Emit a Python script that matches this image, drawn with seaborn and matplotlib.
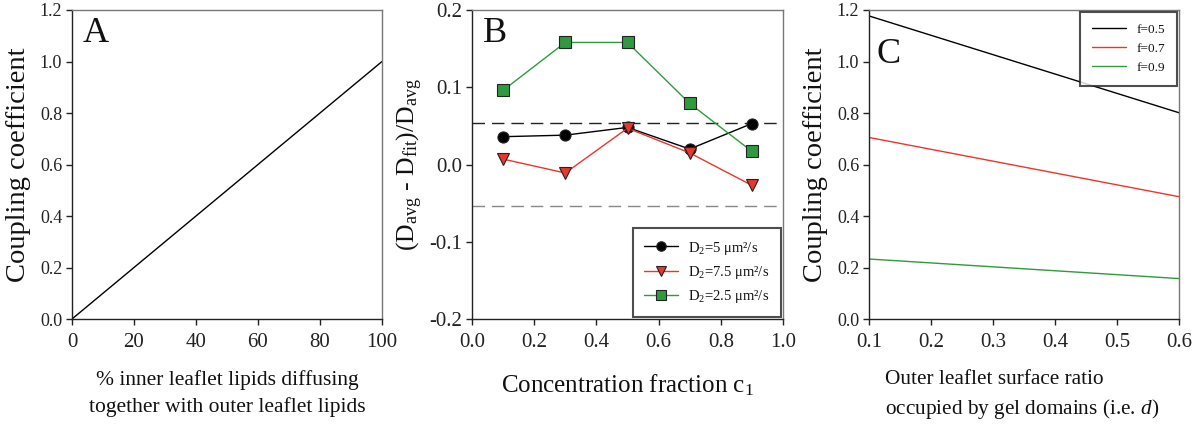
import numpy as np
import pandas as pd
import matplotlib
matplotlib.use("Agg")
import matplotlib.pyplot as plt
import seaborn as sns

# ---- data ----
a_x = [0, 100]
a_y = [0.0, 1.0]

b_c1 = [0.1, 0.3, 0.5, 0.7, 0.9]
b_d5 = [0.036, 0.038, 0.048, 0.020, 0.053]
b_d75 = [0.007, -0.011, 0.047, 0.015, -0.027]
b_d25 = [0.096, 0.158, 0.158, 0.079, 0.017]
b_thresh = 0.054

c_d = [0.1, 0.6]
c_f05 = [1.177, 0.801]
c_f07 = [0.705, 0.475]
c_f09 = [0.233, 0.157]

sns.set_style("ticks")
plt.rcParams['font.family'] = ['Liberation Serif', 'DejaVu Serif']
plt.rcParams['mathtext.fontset'] = 'custom'
plt.rcParams['mathtext.rm'] = 'Liberation Serif'
plt.rcParams['mathtext.it'] = 'Liberation Serif:italic'
plt.rcParams['axes.unicode_minus'] = False
plt.rcParams['text.color'] = '#111111'
plt.rcParams['axes.labelcolor'] = '#111111'
plt.rcParams['xtick.color'] = '#222222'
plt.rcParams['ytick.color'] = '#222222'

fig = plt.figure(figsize=(12.03, 4.30), dpi=100)
W, H = 1203, 430

def mk_ax(left, right, top=10, bottom=319):
    return fig.add_axes([left / W, 1 - bottom / H, (right - left) / W, (bottom - top) / H])

axA = mk_ax(72, 382)
axB = mk_ax(472, 783)
axC = mk_ax(869, 1179)

def style(ax, ysize=13):
    for s in ['left', 'bottom']:
        ax.spines[s].set_color('#222222')
        ax.spines[s].set_linewidth(1.0)
    for s in ['top', 'right']:
        ax.spines[s].set_visible(True)
        ax.spines[s].set_color('#777777')
        ax.spines[s].set_linewidth(1.0)
    ax.tick_params(axis='both', direction='out', length=4, width=1, color='#222222')
    ax.tick_params(axis='x', labelsize=15, pad=6)
    ax.tick_params(axis='y', labelsize=ysize, pad=3)
    ax.tick_params(top=False, right=False)

# ---- Panel A ----
sns.lineplot(x=a_x, y=a_y, ax=axA, color='black', linewidth=1.0)
axA.set_xlim(0, 100)
axA.set_ylim(0, 1.2)
axA.set_xticks([0, 20, 40, 60, 80, 100])
axA.set_yticks(np.round(np.arange(0, 1.21, 0.2), 1))
axA.set_yticklabels([f"{v:.1f}" for v in np.arange(0, 1.21, 0.2)])
axA.set_ylabel("Coupling coefficient", fontsize=20.5, labelpad=6)
axA.set_xlabel("% inner leaflet lipids diffusing\ntogether with outer leaflet lipids",
               fontsize=15.5, labelpad=13, linespacing=1.5)
axA.text(0.035, 0.895, "A", transform=axA.transAxes, fontsize=26)
style(axA)

# ---- Panel B ----
dfB = pd.DataFrame({
    'c1': b_c1 * 3,
    'val': b_d5 + b_d75 + b_d25,
    'series': (["D$_2$=5 μm²/s"] * 5 + ["D$_2$=7.5 μm²/s"] * 5 + ["D$_2$=2.5 μm²/s"] * 5),
})
palB = {"D$_2$=5 μm²/s": 'black', "D$_2$=7.5 μm²/s": '#e8372c', "D$_2$=2.5 μm²/s": '#2f9a3f'}
mkB = {"D$_2$=5 μm²/s": 'o', "D$_2$=7.5 μm²/s": 'v', "D$_2$=2.5 μm²/s": 's'}
axB.axhline(b_thresh, color='#222222', linestyle=(0, (9, 5)), linewidth=1.0, zorder=1)
axB.axhline(-b_thresh, color='#888888', linestyle=(0, (9, 5)), linewidth=1.0, zorder=1)
sns.lineplot(data=dfB, x='c1', y='val', hue='series', style='series',
             palette=palB, markers=mkB, dashes=False, ax=axB, linewidth=1.0,
             markersize=8, markeredgecolor='#222222', markeredgewidth=0.8, sort=False)
axB.set_xlim(0, 1.0)
axB.set_ylim(-0.2, 0.2)
axB.set_xticks(np.round(np.arange(0, 1.01, 0.2), 1))
axB.set_xticklabels([f"{v:.1f}" for v in np.arange(0, 1.01, 0.2)])
axB.set_yticks([-0.2, -0.1, 0.0, 0.1, 0.2])
axB.set_yticklabels(["-0.2", "-0.1", "0.0", "0.1", "0.2"])
axB.set_ylabel("(D$_{\\mathrm{avg}}$ - D$_{\\mathrm{fit}}$)/D$_{\\mathrm{avg}}$", fontsize=18.5, labelpad=3)
axB.set_xlabel("Concentration fraction c$_1$", fontsize=18, labelpad=15)
axB.text(0.035, 0.895, "B", transform=axB.transAxes, fontsize=26)
leg = axB.legend(loc='lower right', fontsize=10.5, frameon=True, fancybox=False,
                 borderpad=0.8, labelspacing=0.5, handlelength=2.3, handletextpad=0.7,
                 borderaxespad=0.15, markerscale=0.85)
leg.get_frame().set_edgecolor('#222222')
leg.get_frame().set_linewidth(1.5)
style(axB, ysize=15)

# ---- Panel C ----
dfC = pd.DataFrame({
    'd': c_d * 3,
    'val': c_f05 + c_f07 + c_f09,
    'f': ['f=0.5'] * 2 + ['f=0.7'] * 2 + ['f=0.9'] * 2,
})
palC = {'f=0.5': 'black', 'f=0.7': '#e8372c', 'f=0.9': '#2f9a3f'}
sns.lineplot(data=dfC, x='d', y='val', hue='f', palette=palC, ax=axC, linewidth=1.0)
axC.set_xlim(0.1, 0.6)
axC.set_ylim(0, 1.2)
axC.set_xticks([0.1, 0.2, 0.3, 0.4, 0.5, 0.6])
axC.set_xticklabels(["0.1", "0.2", "0.3", "0.4", "0.5", "0.6"])
axC.set_yticks(np.round(np.arange(0, 1.21, 0.2), 1))
axC.set_yticklabels([f"{v:.1f}" for v in np.arange(0, 1.21, 0.2)])
axC.set_ylabel("Coupling coefficient", fontsize=20.5, labelpad=6)
axC.set_xlabel("Outer leaflet surface ratio\noccupied by gel domains (i.e. $\\it{d}$)",
               fontsize=15.3, linespacing=1.45, ha='left')
axC.xaxis.set_label_coords(0.052, -0.165)
axC.xaxis.label.set_va('top')
axC.text(0.025, 0.83, "C", transform=axC.transAxes, fontsize=26)
legC = axC.legend(loc='upper right', fontsize=9.5, frameon=True, fancybox=False,
                  borderpad=0.9, labelspacing=0.5, handlelength=2.6, borderaxespad=0.15)
legC.get_frame().set_edgecolor('#222222')
legC.get_frame().set_linewidth(1.5)
style(axC)

fig.savefig("out.png", dpi=100)
